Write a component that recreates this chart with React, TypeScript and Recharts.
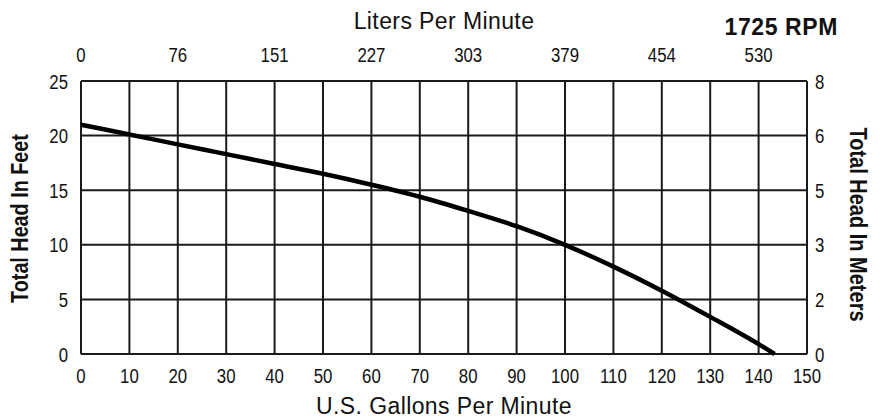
import { LineChart, Line, XAxis, YAxis, CartesianGrid } from "recharts";

// pump curve
const gpm = [0, 10, 20, 30, 40, 50, 60, 70, 80, 90, 100, 110, 120, 130, 140, 143.3];
const headFt = [21.0, 20.1, 19.2, 18.3, 17.4, 16.5, 15.5, 14.4, 13.1, 11.7, 10.0, 8.0, 5.8, 3.4, 0.9, 0];

const gpmTicks = [0, 10, 20, 30, 40, 50, 60, 70, 80, 90, 100, 110, 120, 130, 140, 150];
const feetTicks = [0, 5, 10, 15, 20, 25];

// top axis: liters/min printed at every 20 gpm
const litersAt = [0, 20, 40, 60, 80, 100, 120, 140];
const litersLabels = ["0", "76", "151", "227", "303", "379", "454", "530"];

// right axis: meters printed at the feet gridlines
const meterLabels = ["0", "2", "3", "5", "6", "8"];

const data = gpm.map((g, i) => ({ gpm: g, ft: headFt[i] }));

const sans = "'Liberation Sans', Arial, sans-serif";
const SQUEEZE = 0.8; // no condensed face installed, so squeeze horizontally

// tick label in a condensed look
const NarrowTick = (props: any) => {
  const { x, y, payload, textAnchor, verticalAnchor, fmt } = props;
  const dy = verticalAnchor === "start" ? "0.72em" : verticalAnchor === "end" ? "0" : "0.36em";
  const label = fmt ? fmt(payload.value) : String(payload.value);
  return (
    <text
      transform={`translate(${x} ${y}) scale(${SQUEEZE} 1)`}
      textAnchor={textAnchor}
      dy={dy}
      fill="#111"
      fontSize={21}
      fontFamily={sans}
    >
      {label}
    </text>
  );
};

const SideTitle = (props: any) => {
  const { x, y, height } = props.viewBox;
  const { text, offX, offY, turn, sq } = props;
  const cx = x + offX;
  const cy = y + height / 2 + offY;
  return (
    <text
      transform={`translate(${cx} ${cy}) rotate(${turn}) scale(${sq} 1)`}
      textAnchor="middle"
      dominantBaseline="central"
      fill="#111"
      fontSize={23}
      fontWeight="bold"
      fontFamily={sans}
    >
      {text}
    </text>
  );
};

export default function App() {
  return (
    <div style={{ position: "absolute", left: 0, top: 0, width: 882, height: 418, background: "#fff" }}>
      <LineChart width={882} height={418} data={data} margin={{ top: 0, right: 0, bottom: 0, left: 0 }}>
        <CartesianGrid stroke="#1a1a1a" strokeWidth={2} fill="none" />

        <XAxis
          dataKey="gpm"
          type="number"
          domain={[0, 150]}
          ticks={gpmTicks}
          height={64}
          tickLine={false}
          axisLine={false}
          tickSize={0}
          tickMargin={14}
          tick={<NarrowTick />}
          interval={0}
          label={{
            value: "U.S. Gallons Per Minute",
            position: "insideBottom",
            offset: 4,
            fill: "#111",
            fontSize: 23,
            fontFamily: sans,
            letterSpacing: 0.4,
          }}
        />
        <XAxis
          xAxisId="lpm"
          orientation="top"
          dataKey="gpm"
          type="number"
          domain={[0, 150]}
          ticks={litersAt}
          height={81}
          tickLine={false}
          axisLine={false}
          tickSize={0}
          tickMargin={19}
          tick={<NarrowTick fmt={(v: number) => litersLabels[litersAt.indexOf(v)]} />}
          interval={0}
          label={{
            value: "Liters Per Minute",
            position: "insideTop",
            offset: 13,
            fill: "#111",
            fontSize: 23,
            fontFamily: sans,
            letterSpacing: 0.4,
          }}
        />
        <YAxis
          dataKey="ft"
          type="number"
          domain={[0, 25]}
          ticks={feetTicks}
          width={81}
          tickLine={false}
          axisLine={false}
          tickSize={0}
          tickMargin={13}
          tick={<NarrowTick />}
          interval={0}
          label={<SideTitle text="Total Head In Feet" offX={20} offY={1} turn={-90} sq={0.86} />}
        />
        <YAxis
          yAxisId="m"
          orientation="right"
          dataKey="ft"
          type="number"
          domain={[0, 25]}
          ticks={feetTicks}
          width={75}
          tickLine={false}
          axisLine={false}
          tickSize={0}
          tickMargin={8}
          tick={<NarrowTick fmt={(v: number) => meterLabels[feetTicks.indexOf(v)]} />}
          interval={0}
          label={<SideTitle text="Total Head In Meters" offX={51} offY={7} turn={90} sq={0.87} />}
        />

        <Line
          type="monotone"
          dataKey="ft"
          stroke="#000"
          strokeWidth={4.5}
          dot={false}
          activeDot={false}
          isAnimationActive={false}
        />
      </LineChart>
      <div
        style={{
          position: "absolute",
          right: 44,
          top: 14,
          fontFamily: sans,
          fontWeight: "bold",
          fontSize: 23,
          letterSpacing: 0.6,
          color: "#111",
          lineHeight: "27px",
        }}
      >
        1725 RPM
      </div>
    </div>
  );
}
